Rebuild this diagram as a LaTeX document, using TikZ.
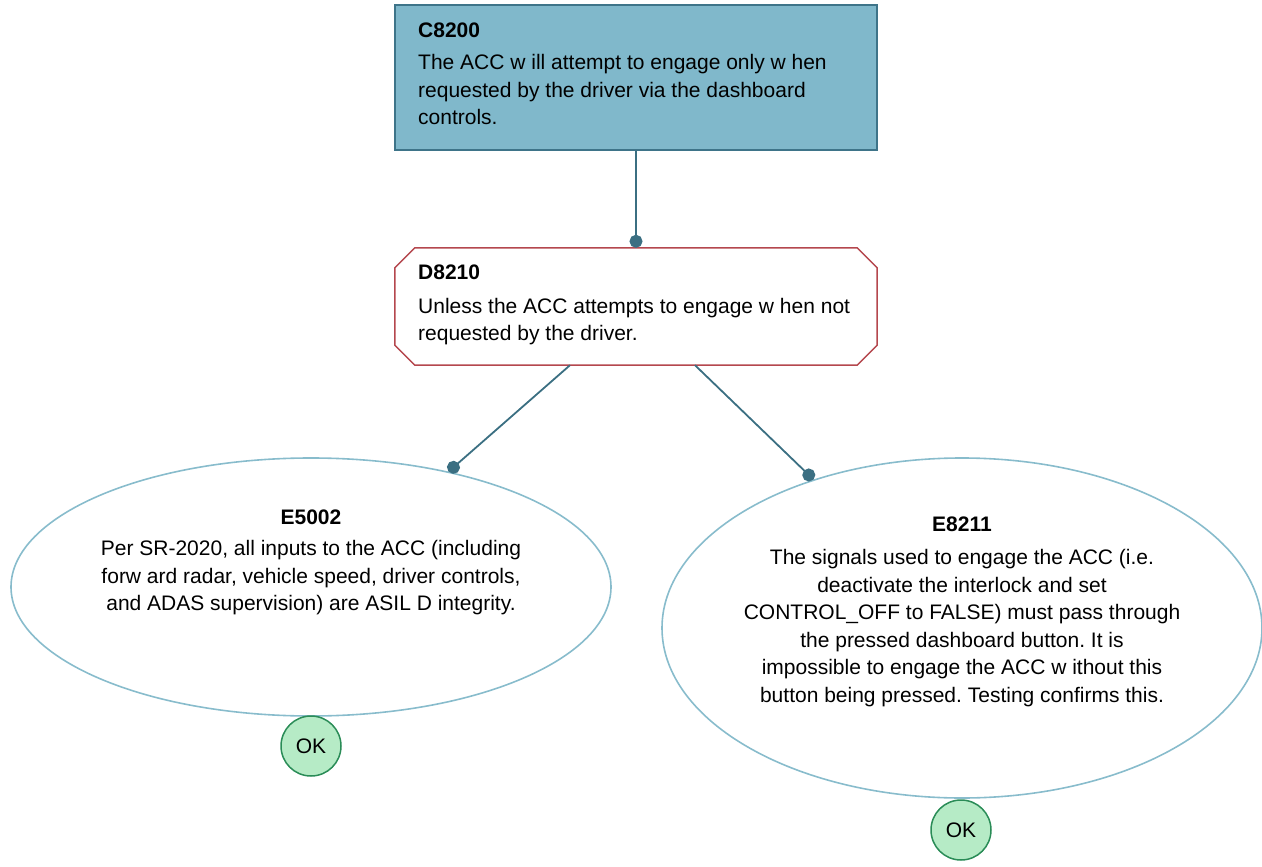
\documentclass[tikz,border=0pt]{standalone}
\usepackage{fontspec}
\setmainfont{Liberation Sans}
\usetikzlibrary{arrows.meta,calc,shapes.geometric}
\definecolor{claimfill}{HTML}{80B8CB}
\definecolor{claimedge}{HTML}{3E7489}
\definecolor{defeatedge}{HTML}{B5474E}
\definecolor{evidedge}{HTML}{88BCCC}
\definecolor{linkcol}{HTML}{3B6F82}
\definecolor{okfill}{HTML}{B6EBC6}
\definecolor{okedge}{HTML}{2A8C57}
\frenchspacing
\begin{document}
\begin{tikzpicture}[x=1pt,y=-1pt,
  bodytext/.style={font=\fontsize{21}{27.5}\selectfont, inner sep=0pt, text=black},
  claimbox/.style={draw=claimedge, fill=claimfill, line width=1.5pt,
    minimum width=482pt, minimum height=145pt, inner sep=0pt},
  defeatbox/.style={minimum width=482pt, minimum height=117pt, inner sep=0pt},
  evidence/.style={ellipse, draw=evidedge, line width=1.6pt, inner sep=0pt},
  okmark/.style={circle, draw=okedge, fill=okfill, line width=1.5pt,
    minimum size=60pt, inner sep=0pt, font=\fontsize{21}{24}\selectfont},
  link/.style={draw=linkcol, line width=1.8pt, -{Circle[length=13pt]}}
]
\useasboundingbox (0,0) rectangle (1262,867);

% claim
\node[claimbox] (c8200) at (636,77.5) {};
\node[bodytext, align=left, anchor=north west] (c8200txt) at (418,23)
  {\textbf{C8200}\\[4.5pt]
   The ACC w ill attempt to engage only w hen\\
   requested by the driver via the dashboard\\
   controls.};

% defeater (chamfered box)
\node[defeatbox] (d8210) at (636,306.5) {};
\draw[defeatedge, line width=1.5pt, fill=white]
  ($(d8210.north west)+(20,0)$) -- ($(d8210.north east)+(-20,0)$)
  -- ($(d8210.north east)+(0,20)$) -- ($(d8210.south east)+(0,-20)$)
  -- ($(d8210.south east)+(-20,0)$) -- ($(d8210.south west)+(20,0)$)
  -- ($(d8210.south west)+(0,-20)$) -- ($(d8210.north west)+(0,20)$) -- cycle;
\node[bodytext, align=left, anchor=north west] (d8210txt) at (418,265)
  {\textbf{D8210}\\[6pt]
   Unless the ACC attempts to engage w hen not\\
   requested by the driver.};

% evidence
\node[evidence, minimum width=600pt, minimum height=258pt] (e5002) at (311,587) {};
\node[bodytext, align=center, anchor=north] (e5002txt) at (311,510)
  {\textbf{E5002}\\[3.5pt]
   Per SR-2020, all inputs to the ACC (including\\
   forw ard radar, vehicle speed, driver controls,\\
   and ADAS supervision) are ASIL D integrity.};

\node[evidence, minimum width=600pt, minimum height=340pt] (e8211) at (962,628) {};
\node[bodytext, align=center, anchor=north] (e8211txt) at (962,517)
  {\textbf{E8211}\\[5.5pt]
   The signals used to engage the ACC (i.e.\\
   deactivate the interlock and set\\
   CONTROL\_OFF to FALSE) must pass through\\
   the pressed dashboard button. It is\\
   impossible to engage the ACC w ithout this\\
   button being pressed. Testing confirms this.};

% status marks
\node[okmark] (ok1) at (311,746) {OK};
\node[okmark] (ok2) at (961,830) {OK};

% connectors
\draw[link] (c8200.south) -- (d8210.north);
\draw[link] ($(d8210.south)+(-66,0)$) -- (e5002.40);
\draw[link] ($(d8210.south)+(59,0)$) -- (e8211.135.4);
\end{tikzpicture}
\end{document}
